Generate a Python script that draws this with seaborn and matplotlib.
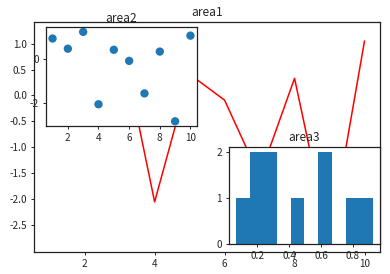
import matplotlib
matplotlib.use("Agg")
import matplotlib.pyplot as plt
import seaborn as sns
import pandas as pd

# data
x_vals = [1, 2, 3, 4, 5, 6, 7, 8, 9, 10]
y_vals = [0.92, 0.46, 1.22, -2.05, 0.41, -0.09, -1.56, 0.33, -2.82, 1.05]
hist_vals = [0.064, 0.17, 0.21, 0.26, 0.30, 0.45, 0.60, 0.64, 0.80, 0.927]
titles = ["area1", "area2", "area3"]

sns.set_style("ticks")
plt.rcParams['font.family'] = ['Noto Sans CJK SC', 'DejaVu Sans']
plt.rcParams['axes.unicode_minus'] = False
plt.rcParams['xtick.labelsize'] = 7.2
plt.rcParams['ytick.labelsize'] = 7.2
plt.rcParams['axes.titlesize'] = 8.6
plt.rcParams['axes.edgecolor'] = '#222222'
plt.rcParams['axes.linewidth'] = 0.9
plt.rcParams['xtick.major.size'] = 2.5
plt.rcParams['ytick.major.size'] = 2.5
plt.rcParams['xtick.major.width'] = 0.7
plt.rcParams['ytick.major.width'] = 0.7
plt.rcParams['xtick.major.pad'] = 2.5
plt.rcParams['ytick.major.pad'] = 2.5

df = pd.DataFrame({"x": x_vals, "y": y_vals})
hdf = pd.DataFrame({"v": hist_vals})

fig = plt.figure(figsize=(3.9, 2.74), dpi=100)

ax1 = fig.add_axes([0.087, 0.079, 0.888, 0.842])
sns.lineplot(data=df, x="x", y="y", ax=ax1, color="red", linewidth=1.1)
ax1.set_title(titles[0], pad=4)
ax1.set_xlabel("")
ax1.set_ylabel("")
ax1.set_xticks([2, 4, 6, 8, 10])
ax1.set_yticks([1.0, 0.5, 0.0, -0.5, -1.0, -1.5, -2.0, -2.5])

ax2 = fig.add_axes([0.117, 0.541, 0.389, 0.359])
sns.scatterplot(data=df, x="x", y="y", ax=ax2, color="#1f77b4", s=36,
                edgecolor="none", linewidth=0)
ax2.set_title(titles[1], pad=4)
ax2.set_xlabel("")
ax2.set_ylabel("")
ax2.set_xticks([2, 4, 6, 8, 10])
ax2.set_yticks([0, -2])

ax3 = fig.add_axes([0.587, 0.108, 0.387, 0.356])
sns.histplot(data=hdf, x="v", bins=10, ax=ax3, color="#1f77b4", alpha=1,
             edgecolor="none", linewidth=0)
ax3.set_title(titles[2], pad=4)
ax3.set_xlabel("")
ax3.set_ylabel("")
ax3.set_xticks([0.2, 0.4, 0.6, 0.8])
ax3.set_yticks([0, 1, 2])
ax3.margins(x=0.05)

fig.savefig("out.png", dpi=100)
